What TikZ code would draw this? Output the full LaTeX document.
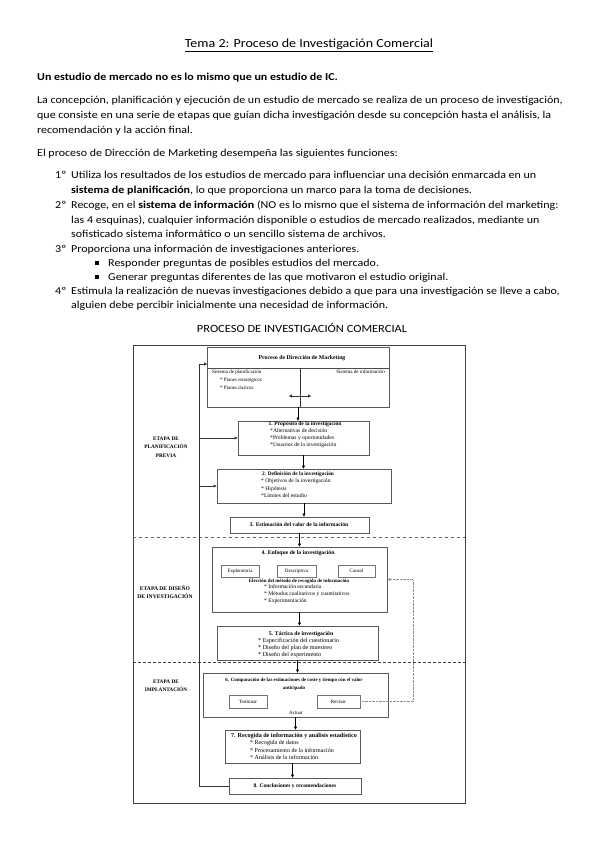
\documentclass[tikz,border=0pt]{standalone}
\usepackage{fontspec}
\setmainfont{Carlito}[FakeStretch=1.13]
\newfontfamily\diagfont{Liberation Serif}
\usetikzlibrary{positioning,arrows.meta}

\newcommand{\dsz}[1]{\fontsize{#1}{8}\selectfont}

\begin{document}
\begin{tikzpicture}[x=1pt,y=-1pt,
		body/.style={anchor=base west, inner sep=0pt, font=\fontsize{10.6}{12}\selectfont},
		box/.style={draw=black!65, line width=0.8pt, inner sep=0pt},
		subbox/.style={draw=black!55, line width=0.6pt, inner sep=0pt, font=\diagfont\fontsize{5}{5}\selectfont},
		tit/.style={inner sep=0pt, align=center, font=\diagfont\bfseries\fontsize{5.5}{8}\selectfont},
		item/.style={anchor=west, inner sep=0pt, font=\diagfont\fontsize{5.6}{6}\selectfont},
		stage/.style={inner sep=0pt, align=center, font=\diagfont\bfseries\fontsize{5.3}{8.5}\selectfont},
		bullet/.style={rectangle, fill=black, inner sep=0pt, minimum size=3.4pt},
		tri/.tip={Triangle[length=3pt,width=3pt]},
		]
		\useasboundingbox (0,0) rectangle (599,848);
		
		%Text
		\node[inner sep=0pt, font=\fontsize{12.4}{14}\selectfont] (title) at (309,45) {\underline{Tema 2: Proceso de Investigación Comercial}};
		\node[body] (claim) at (37,81) {\textbf{Un estudio de mercado no es lo mismo que un estudio de IC.}};
		\node[body] (par-1) at (37,103) {La concepción, planificación y ejecución de un estudio de mercado se realiza de un proceso de investigación,};
		\node[body] (par-2) at (37,118) {que consiste en una serie de etapas que guían dicha investigación desde su concepción hasta el análisis, la};
		\node[body] (par-3) at (37,133) {recomendación y la acción final.};
		\node[body] (intro) at (37,156) {El proceso de Dirección de Marketing desempeña las siguientes funciones:};
		
		\node[body] (n-1) at (55,178) {1º};
		\node[body] (f-1a) at (71,178) {Utiliza los resultados de los estudios de mercado para influenciar una decisión enmarcada en un};
		\node[body] (f-1b) at (71,193) {\textbf{sistema de planificación}, lo que proporciona un marco para la toma de decisiones.};
		\node[body] (n-2) at (55,208) {2º};
		\node[body] (f-2a) at (71,208) {Recoge, en el \textbf{sistema de información} (NO es lo mismo que el sistema de información del marketing:};
		\node[body] (f-2b) at (71,223) {las 4 esquinas), cualquier información disponible o estudios de mercado realizados, mediante un};
		\node[body] (f-2c) at (71,237) {sofisticado sistema informático o un sencillo sistema de archivos.};
		\node[body] (n-3) at (55,252) {3º};
		\node[body] (f-3) at (71,252) {Proporciona una información de investigaciones anteriores.};
		\node[bullet] (bl-1) at (97,263) {};
		\node[body] (f-3a) at (108,266) {Responder preguntas de posibles estudios del mercado.};
		\node[bullet] (bl-2) at (97,277) {};
		\node[body] (f-3b) at (108,280) {Generar preguntas diferentes de las que motivaron el estudio original.};
		\node[body] (n-4) at (55,294) {4º};
		\node[body] (f-4a) at (71,294) {Estimula la realización de nuevas investigaciones debido a que para una investigación se lleve a cabo,};
		\node[body] (f-4b) at (71,308) {alguien debe percibir inicialmente una necesidad de información.};
		
		\node[inner sep=0pt, font=\fontsize{11}{12}\selectfont] (diag-title) at (302,328) {PROCESO DE INVESTIGACIÓN COMERCIAL};
		
		%Frame and stages
		\node[draw=black!75, line width=0.7pt, inner sep=0pt, minimum width=332, minimum height=458] (frame) at (299,574) {};
		\coordinate (sep-a) at (0,537);
		\coordinate (sep-b) at (0,662);
		\draw[dashed, black!60] (frame.west |- sep-a) -- (frame.east |- sep-a);
		\draw[densely dashed, black!75, line width=0.8pt] (frame.west |- sep-b) -- (frame.east |- sep-b);
		\node[stage] (st-plan) at (166,447) {ETAPA DE\\PLANIFICACIÓN\\PREVIA};
		\node[stage, font=\diagfont\bfseries\fontsize{5.6}{8.5}\selectfont] (st-design) at (165,592) {ETAPA DE DISEÑO\\DE INVESTIGACIÓN};
		\node[stage] (st-impl) at (166,686) {ETAPA DE\\IMPLANTACIÓN};
		
		%Boxes
		\node[box, minimum width=182, minimum height=60] (b0) at (298,377) {};
		\node[box, minimum width=131, minimum height=34] (b1) at (303.5,438) {};
		\node[box, minimum width=174, minimum height=34] (b2) at (304,486) {};
		\node[box, minimum width=139, minimum height=16] (b3) at (299.5,525) {};
		\node[box, minimum width=175, minimum height=65] (b4) at (299.5,579.5) {};
		\node[box, minimum width=161, minimum height=34] (b5) at (297.5,643) {};
		\node[box, minimum width=185, minimum height=44] (b6) at (295.5,695) {};
		\node[box, minimum width=135, minimum height=33] (b7) at (292.5,746.5) {};
		\node[box, minimum width=132, minimum height=16] (b8) at (295,786) {};
		
		\node[subbox, minimum width=38, minimum height=12] (explor) at (240,571) {Exploratoria};
		\node[subbox, minimum width=39, minimum height=12] (descr) at (296.5,571) {Descriptiva};
		\node[subbox, minimum width=37, minimum height=12] (causal) at (356.5,571) {Causal};
		\node[subbox, minimum width=38, minimum height=13] (term) at (248,701.5) {Terminar};
		\node[subbox, minimum width=43, minimum height=13] (rev) at (338.5,701.5) {Revisar};
		
		%Box texts
		\node[tit, font=\diagfont\bfseries\dsz{5.8}] (t0) at (302,358) {Proceso de Dirección de Marketing};
		\coordinate (sys) at (0,368);
		\draw[black!70] (b0.west |- sys) -- (b0.east |- sys);
		\node[item, font=\diagfont\dsz{5}] (plan) at (212,372) {Sistema de planificación};
		\node[item, font=\diagfont\dsz{5}] (plan-1) at (220,380) {* Planes estratégicos};
		\node[item, font=\diagfont\dsz{5}] (plan-2) at (220,388) {* Planes tácticos};
		\node[item, font=\diagfont\dsz{5.1}, anchor=east] (info) at (385,372) {Sistema de información};
		
		\node[tit] (t1) at (305,424) {1. Propósito de la investigación};
		\node[item] (i1-a) at (270,431) {*Alternativas de decisión};
		\node[item] (i1-b) at (270,438) {*Problemas y oportunidades};
		\node[item] (i1-c) at (270,445) {*Usuarios de la investigación};
		
		\node[tit, font=\diagfont\bfseries\dsz{5.3}] (t2) at (298,474) {2. Definición de la investigación};
		\node[item] (i2-a) at (261,481) {* Objetivos de la investigación};
		\node[item] (i2-b) at (261,489) {* Hipótesis};
		\node[item] (i2-c) at (261,496) {*Límites del estudio};
		
		\node[tit, font=\diagfont\bfseries\dsz{5.6}] (t3) at (299,525) {3. Estimación del valor de la información};
		
		\node[tit, font=\diagfont\bfseries\dsz{5.7}] (t4) at (298,553) {4. Enfoque de la investigación};
		\node[tit, font=\diagfont\bfseries\dsz{4.9}] (t4-m) at (299,581) {Elección del método de recogida de información};
		\node[item] (i4-a) at (264,587) {* Información secundaria};
		\node[item] (i4-b) at (264,594) {* Métodos cualitativos y cuantitativos};
		\node[item] (i4-c) at (264,601) {* Experimentación};
		
		\node[tit, font=\diagfont\bfseries\dsz{5.7}] (t5) at (301,634) {5. Táctica de investigación};
		\node[item, font=\diagfont\dsz{6.1}] (i5-a) at (258,641) {* Especificación del cuestionario};
		\node[item, font=\diagfont\dsz{6.1}] (i5-b) at (258,648) {* Diseño del plan de muestreo};
		\node[item, font=\diagfont\dsz{6.1}] (i5-c) at (258,655) {* Diseño del experimento};
		
		\node[tit, font=\diagfont\bfseries\fontsize{4.9}{8}\selectfont] (t6) at (294,684) {6. Comparación de las estimaciones de coste y tiempo con el valor\\anticipado};
		\node[item, anchor=center, font=\diagfont\dsz{5}] (act) at (296,713) {Actuar};
		
		\node[tit, font=\diagfont\bfseries\dsz{6.1}] (t7) at (294,736) {7. Recogida de información y análisis estadístico};
		\node[item, font=\diagfont\dsz{6}] (i7-a) at (250,743) {* Recogida de datos};
		\node[item, font=\diagfont\dsz{6}] (i7-b) at (250,750) {* Procesamiento de la información};
		\node[item, font=\diagfont\dsz{6}] (i7-c) at (250,757) {* Análisis de la información};
		
		\node[tit] (t8) at (295,786) {8. Conclusiones y recomendaciones};
		
		%Lines
		\coordinate (split) at (300,368);
		\coordinate (sw-l) at (289,396);
		\coordinate (sw-r) at (311,396);
		\draw[black!80] (split) -- (split |- b0.south);
		\draw[tri-tri, black!80] (sw-l) -- (sw-r);
		
		\draw[-tri] (b0.south) -- (b0.south |- b1.north);
		\draw[-tri] (b1.south) -- (b1.south |- b2.north);
		\draw[-tri] (b2.south) -- (b2.south |- b3.north);
		\draw[-tri] (b3.south) -- (b3.south |- b4.north);
		\draw[-tri] (b4.south) -- (b4.south |- b5.north);
		\draw[-tri] (b5.south) -- (b5.south |- b6.north);
		\draw[-tri] (b6.south) -- (b6.south |- b7.north);
		\draw[-tri] (b7.south) -- (b7.south |- b8.north);
		
		% Feedback to planning
		\coordinate (fb) at (199,364);
		\coordinate (b0-in) at (207,364);
		\draw[-tri, black!80] (b8.west) -| (fb) -- (b0-in);
		\draw[-tri, black!80] (b1.west -| fb) -- (b1.west);
		\draw[-tri, black!80] (b2.west -| fb) -- (b2.west);
		
		% Revisar loop
		\coordinate (loop) at (413,640);
		\draw[densely dotted, black!45, -tri] (rev.east) -| (loop) |- (b4.east);
		
	\end{tikzpicture}
\end{document}
